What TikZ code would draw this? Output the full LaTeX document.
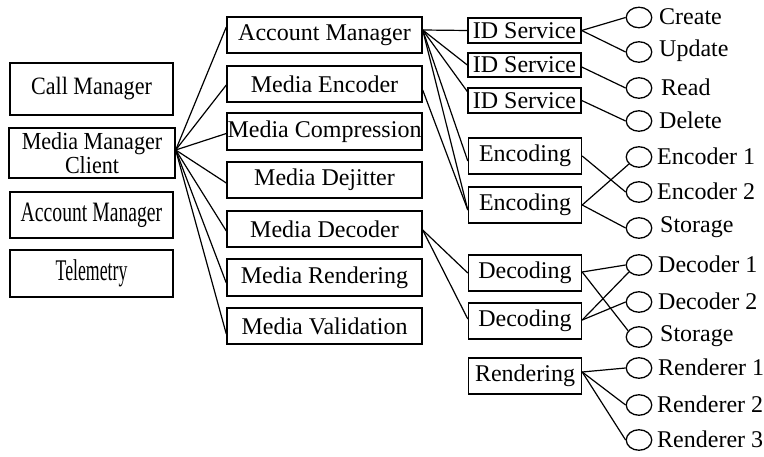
\documentclass[tikz,border=0pt]{standalone}
\usepackage{fontspec}
\setmainfont{Liberation Serif}
\usetikzlibrary{shapes.geometric,calc}
\begin{document}
\begin{tikzpicture}[x=1pt,y=-1pt,
  box/.style={draw,line width=1.4pt,inner sep=0pt,align=center,
    font=\fontsize{24}{20}\selectfont},
  sidebox/.style={box,minimum width=163pt},
  wide/.style={box,minimum width=195pt,minimum height=36pt},
  svc/.style={box,minimum width=113pt,minimum height=36pt},
  idbox/.style={svc,minimum height=25pt},
  leaf/.style={draw,ellipse,line width=1.3pt,minimum width=25.5pt,
    minimum height=20.5pt,inner sep=0pt},
  tag/.style={anchor=west,inner sep=0pt,font=\fontsize{24}{25}\selectfont},
  link/.style={line width=1.2pt}]
\useasboundingbox[fill=white] (0,0) rectangle (764,457);

% left column
\node[sidebox,minimum height=52pt] (cm)  at (91.5,89)
  {\scalebox{0.92}[1.04]{Call Manager}};
\node[sidebox,minimum width=166pt,minimum height=50pt] (mmc) at (92,153)
  {\scalebox{0.92}[1.02]{Media Manager}\\\scalebox{0.92}[1.02]{Client}};
\node[sidebox,minimum height=46pt] (acc) at (91.5,215)
  {\scalebox{0.82}[1.17]{Account Manager}};
\node[sidebox,minimum height=47pt] (tel) at (91.5,273.5)
  {\scalebox{0.74}[1.25]{Telemetry}};

% middle column
\node[wide] (am)    at (324.5,35)    {Account Manager};
\node[wide] (menc)  at (324.5,84)    {Media Encoder};
\node[wide,minimum height=37pt] (mcomp) at (324.5,131.5) {Media Compression};
\node[wide] (mdej)  at (324.5,180)   {Media Dejitter};
\node[wide] (mdec)  at (324.5,229)   {Media Decoder};
\node[wide,minimum height=37pt] (mrend) at (324.5,277.5) {Media Rendering};
\node[wide] (mval)  at (324.5,326)   {Media Validation};

% service column
\node[idbox] (id1) at (524.5,30.5)  {ID Service};
\node[idbox,minimum height=24pt] (id2) at (524.5,65) {ID Service};
\node[idbox] (id3) at (524.5,100.5) {ID Service};
\node[svc] (enc1) at (525,156) {Encoding};
\node[svc] (enc2) at (525,205) {Encoding};
\node[svc] (dec1) at (525,273) {Decoding};
\node[svc] (dec2) at (525,321) {Decoding};
\node[svc] (rend) at (525,376) {Rendering};

% leaves
\foreach \n/\y/\t/\lx in {cr/17.5/Create/659, up/52/Update/659, rd/88/Read/661,
    del/121/Delete/659, e1/157/Encoder 1/657, e2/192/Encoder 2/657,
    st1/228/Storage/660, d1/265/Decoder 1/658, d2/302/Decoder 2/658,
    st2/337/Storage/660, r1/368/Renderer 1/658, r2/405/Renderer 2/657,
    r3/440/Renderer 3/657}{
  \node[leaf] (\n) at (639,\y) {};
  \node[tag] (\n-t) at (\lx,\y-1) {\t};
}

% client to components
\coordinate (hub) at ($(mmc.east)+(0,-3)$);
\draw[link] (hub) -- ($(am.west)+(0,-8)$);
\draw[link] (hub) -- ($(menc.west)+(0,1)$);
\draw[link] (hub) -- ($(mcomp.west)+(0,2)$);
\draw[link] (hub) -- ($(mdej.west)+(0,3)$);
\draw[link] (hub) -- ($(mdec.west)+(0,2)$);
\draw[link] (hub) -- ($(mrend.west)+(0,5.5)$);
\draw[link] (hub) -- ($(mval.west)+(0,8)$);

% account manager fan-out
\coordinate (amR) at ($(am.east)+(0,-5)$);
\draw[link] (amR) -- (id1.west);
\draw[link] (amR) -- (id2.west);
\draw[link] (amR) -- ($(id3.west)+(0,-9)$);
\draw[link] (amR) -- ($(enc1.west)+(0,5)$);
\draw[link] (amR) -- ($(enc2.west)+(0,5)$);
\draw[link] ($(menc.east)+(0,6)$) -- ($(enc2.west)+(0,5)$);

% decoder fan-out
\coordinate (mdecR) at ($(mdec.east)+(0,1)$);
\draw[link] (mdecR) -- (dec1.west);
\draw[link] (mdecR) -- ($(dec2.west)+(0,-2)$);

% services to leaves
\draw[link] (id1.east) -- (cr.west);
\draw[link] (id1.east) -- (up.west);
\draw[link] ($(id2.east)+(0,2)$) -- (rd.west);
\draw[link] (id3.east) -- (del.west);
\draw[link] (enc1.east) -- (e2.west);
\draw[link] (enc2.east) -- (e1.215);
\draw[link] (enc2.east) -- (st1.west);
\draw[link] ($(dec1.east)+(0,-1)$) -- (d1.west);
\draw[link] ($(dec1.east)+(0,-1)$) -- (st2.150);
\draw[link] ($(dec2.east)+(0,-1)$) -- (d1.215);
\draw[link] ($(dec2.east)+(0,-1)$) -- (d2.west);
\draw[link] ($(rend.east)+(0,-4)$) -- (r1.west);
\draw[link] ($(rend.east)+(0,-4)$) -- (r2.west);
\draw[link] ($(rend.east)+(0,-4)$) -- (r3.west);
\end{tikzpicture}
\end{document}
